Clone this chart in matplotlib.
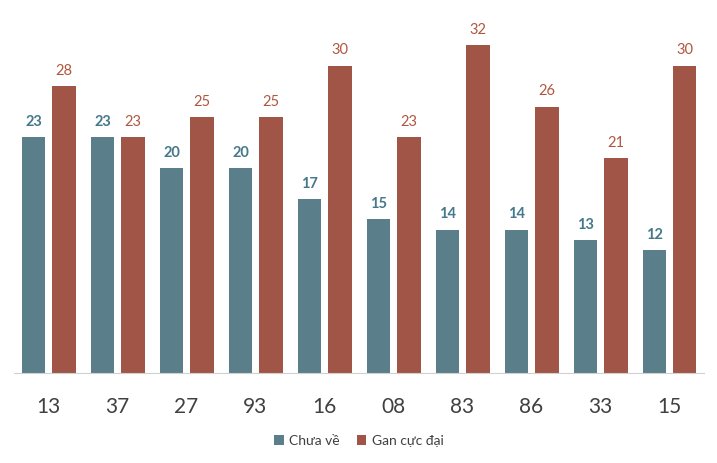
import numpy as np
import matplotlib.pyplot as plt

categories = ["13", "37", "27", "93", "16", "08", "83", "86", "33", "15"]
chua_ve = [23, 23, 20, 20, 17, 15, 14, 14, 13, 12]
gan_cuc_dai = [28, 23, 25, 25, 30, 23, 32, 26, 21, 30]

plt.rcParams['font.family'] = ['Lato', 'DejaVu Sans']

blue = "#5b7f8a"
red = "#a05546"

fig = plt.figure(figsize=(7.17, 4.63), dpi=100)
ax = fig.add_axes([0.0195, 0.1944, 0.962, 0.8056])

x = np.arange(len(categories))
w = 0.34
b1 = ax.bar(x - 0.215, chua_ve, w, color=blue, label="Chưa về")
b2 = ax.bar(x + 0.225, gan_cuc_dai, w, color=red, label="Gan cực đại")

for r, v in zip(b1, chua_ve):
    ax.text(r.get_x() + r.get_width() / 2, v + 0.8, str(v), ha="center", va="bottom",
            fontsize=10.5, fontweight="bold", color="#44788a")
for r, v in zip(b2, gan_cuc_dai):
    ax.text(r.get_x() + r.get_width() / 2, v + 0.8, str(v), ha="center", va="bottom",
            fontsize=10.5, color="#b0563f")

ax.set_xlim(-0.5, 9.5)
ax.set_ylim(0, 36.4)
ax.set_xticks(x)
ax.set_xticklabels(categories, fontsize=15, color="#404040")
ax.tick_params(axis="x", length=0, pad=17)
ax.set_yticks([])
for s in ["top", "right", "left"]:
    ax.spines[s].set_visible(False)
ax.spines["bottom"].set_color("#d0d0d0")

ax.legend(loc="center", bbox_to_anchor=(0.5, -0.182), ncol=2, frameon=False,
          fontsize=10, handlelength=0.7, handleheight=0.7, handletextpad=0.4,
          columnspacing=1.2, labelcolor="#404040")

plt.savefig("out.png", dpi=100)
